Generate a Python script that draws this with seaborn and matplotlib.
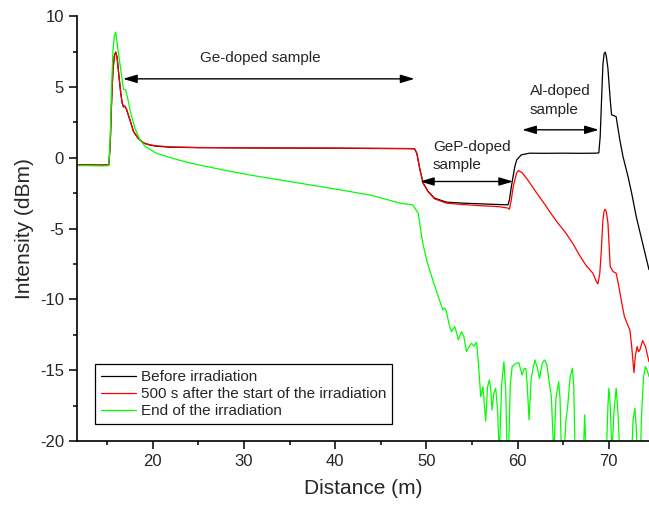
import numpy as np
import pandas as pd
import matplotlib
matplotlib.use("Agg")
import matplotlib.pyplot as plt
from matplotlib.ticker import MultipleLocator
import seaborn as sns

# OTDR traces: distance (m) vs. backscattered intensity (dBm)
before_x = [11.74, 13.0, 14.5, 15.2, 15.35, 15.5, 15.65, 15.8, 15.95, 16.1, 16.3, 16.5,
            16.65, 16.8, 16.95, 17.15, 17.5, 17.9, 18.4, 19.0, 19.7, 20.4, 22.0, 25.0,
            30.0, 35.0, 40.0, 45.0, 48.0, 48.7, 48.95, 49.3, 49.65, 50.2, 50.9, 52.2,
            54.0, 56.0, 58.0, 58.95, 59.1, 59.3, 59.5, 59.7, 59.9, 60.4, 61.3, 63.0,
            65.0, 67.0, 68.5, 68.9, 69.05, 69.2, 69.35, 69.48, 69.6, 69.72, 69.9, 70.15,
            70.3, 70.6, 70.8, 71.2, 71.55, 72.1, 72.5, 73.0, 73.7, 74.4]
before_y = [-0.5, -0.5, -0.52, -0.5, 1.0, 4.0, 6.2, 7.2, 7.47, 7.1, 5.8, 4.6,
            3.9, 3.6, 3.65, 3.4, 2.7, 1.86, 1.39, 1.05, 0.9, 0.82, 0.75, 0.72,
            0.70, 0.69, 0.68, 0.66, 0.65, 0.64, 0.33, -0.85, -1.79, -2.38, -2.85, -3.13,
            -3.2, -3.25, -3.3, -3.32, -2.97, -2.1, -1.32, -0.6, -0.14, 0.21, 0.33, 0.32,
            0.33, 0.32, 0.33, 0.35, 1.5, 4.1, 6.6, 7.35, 7.47, 7.2, 6.3, 4.1,
            3.04, 2.97, 2.9, 1.27, 0.09, -1.32, -2.5, -4.15, -6.03, -7.9]

mid_x = [11.74, 13.0, 14.5, 15.2, 15.35, 15.5, 15.65, 15.8, 15.95, 16.1, 16.3, 16.5,
         16.65, 16.8, 16.95, 17.15, 17.5, 17.9, 18.4, 19.0, 19.7, 20.4, 22.0, 25.0,
         30.0, 35.0, 40.0, 45.0, 48.0, 48.7, 48.95, 49.3, 49.65, 50.2, 50.9, 52.2,
         54.0, 56.0, 58.0, 58.95, 59.1, 59.3, 59.5, 59.7, 59.9, 60.1, 60.5, 61.1,
         62.0, 63.0, 63.5, 64.4, 65.3, 66.1, 66.8, 67.5, 68.25, 68.6, 68.8, 69.0,
         69.15, 69.35, 69.48, 69.6, 69.72, 69.9, 70.15, 70.45, 70.8, 71.1, 71.4, 71.7,
         72.0, 72.3, 72.5, 72.75, 72.9, 73.1, 73.25, 73.4, 73.7, 74.0, 74.4]
mid_y = [-0.5, -0.5, -0.5, -0.48, 1.0, 4.0, 6.2, 7.2, 7.47, 7.1, 5.8, 4.6,
         3.9, 3.6, 3.65, 3.4, 2.7, 1.86, 1.39, 1.05, 0.92, 0.85, 0.77, 0.73,
         0.71, 0.70, 0.69, 0.67, 0.66, 0.64, 0.33, -0.85, -1.79, -2.4, -2.9, -3.2,
         -3.3, -3.38, -3.45, -3.55, -3.63, -3.0, -2.1, -1.55, -1.05, -0.9, -1.05, -1.55,
         -2.4, -3.3, -3.79, -4.6, -5.32, -6.1, -6.9, -7.6, -8.15, -8.7, -8.9, -8.2,
         -6.8, -4.4, -3.75, -3.63, -3.8, -4.6, -7.68, -8.03, -8.15, -9.1, -10.2, -11.2,
         -11.7, -12.16, -13.3, -15.17, -14.0, -13.33, -13.7, -13.57, -12.91, -13.3, -14.4]

end_x = [11.74, 13.0, 14.5, 15.2, 15.35, 15.5, 15.65, 15.8, 15.95, 16.2, 16.6, 16.8,
         17.05, 17.3, 17.6, 18.05, 18.6, 19.2, 20.4, 22.0, 24.1, 27.7, 31.0, 35.0,
         40.0, 44.0, 47.1, 48.5, 49.1, 49.6, 50.1, 50.7, 51.3, 51.8, 52.0, 52.2,
         52.5, 52.75, 53.1, 53.3, 53.5, 53.85, 54.1, 54.4, 54.7, 54.95, 55.2, 55.5,
         55.7, 55.96, 56.2, 56.5, 56.7, 56.9, 57.05, 57.2, 57.4, 57.6, 57.8, 58.0,
         58.25, 58.5, 58.7, 58.85, 59.0, 59.2, 59.4, 59.65, 59.9, 60.15, 60.3, 60.5,
         60.7, 60.9, 61.05, 61.25, 61.5, 61.9, 62.15, 62.4, 62.7, 62.95, 63.2, 63.5,
         63.7, 63.96, 64.2, 64.5, 64.65, 64.8, 65.1, 65.3, 65.5, 65.75, 66.0, 66.15,
         66.3, 66.6, 67.0, 67.2, 67.35, 67.5, 67.8, 68.5, 69.5, 69.75, 69.9, 70.0,
         70.15, 70.35, 70.55, 70.8, 71.0, 71.2, 71.5, 72.0, 72.5, 72.65, 72.85, 73.0,
         73.1, 73.3, 73.45, 73.6, 73.8, 74.0, 74.2, 74.4]
end_y = [-0.55, -0.55, -0.57, -0.55, 1.5, 5.0, 7.6, 8.6, 8.88, 7.63, 5.75, 4.85,
         4.8, 4.1, 3.16, 2.1, 1.27, 0.8, 0.33, 0.0, -0.37, -0.85, -1.25, -1.67,
         -2.2, -2.65, -3.2, -3.32, -3.91, -6.03, -7.4, -8.62, -9.8, -10.74, -10.6, -10.86,
         -11.8, -12.28, -11.92, -12.3, -12.86, -12.28, -12.6, -13.69, -13.3, -13.1, -13.3, -13.03,
         -14.5, -16.87, -16.16, -18.6, -16.2, -15.69, -16.3, -17.8, -16.6, -16.28, -17.8, -21.0,
         -16.0, -14.4, -16.5, -21.0, -21.0, -16.0, -14.75, -14.6, -14.5, -14.47, -14.9, -15.34,
         -14.9, -14.86, -16.0, -18.5, -15.5, -14.28, -14.8, -15.57, -14.5, -14.28, -14.6, -16.0,
         -16.87, -21.0, -17.0, -15.8, -17.0, -21.0, -21.0, -18.5, -17.46, -15.5, -14.86, -16.0,
         -21.0, -21.0, -21.0, -21.0, -18.16, -21.0, -21.0, -21.0, -21.0, -20.5, -17.5, -16.28,
         -17.5, -21.0, -18.0, -16.28, -18.0, -21.0, -21.0, -21.0, -21.0, -18.5, -17.69, -19.0,
         -21.0, -21.0, -21.0, -18.0, -15.5, -14.75, -15.0, -15.45]

series_labels = ["Before irradiation",
                 "500 s after the start of the irradiation",
                 "End of the irradiation"]
series_colors = ["#000000", "#ff0000", "#00ff00"]

frames = []
for label, xs, ys in zip(series_labels,
                         [before_x, mid_x, end_x],
                         [before_y, mid_y, end_y]):
    frames.append(pd.DataFrame({"Distance": xs, "Intensity": ys, "trace": label}))
df = pd.concat(frames, ignore_index=True)

sns.set_style("ticks")
plt.rcParams["font.family"] = ["Liberation Sans", "DejaVu Sans"]
plt.rcParams["axes.unicode_minus"] = False

fig = plt.figure(figsize=(6.49, 5.07), dpi=100)
ax = fig.add_axes([0.1191, 0.1302, 0.8809, 0.8377])

sns.lineplot(data=df, x="Distance", y="Intensity", hue="trace",
             hue_order=series_labels, palette=series_colors,
             estimator=None, sort=False, linewidth=0.9, ax=ax)

ax.set_xlim(11.74, 74.4)
ax.set_ylim(-20, 10)
ax.xaxis.set_major_locator(MultipleLocator(10))
ax.xaxis.set_minor_locator(MultipleLocator(5))
ax.yaxis.set_major_locator(MultipleLocator(5))
ax.yaxis.set_minor_locator(MultipleLocator(2.5))
ax.tick_params(which="major", direction="out", length=6, width=1.1,
               labelsize=12, pad=3.5, color="black")
ax.tick_params(which="minor", direction="out", length=3, width=1.1, color="black")
sns.despine(ax=ax)
for side in ("left", "bottom"):
    ax.spines[side].set_linewidth(1.2)
    ax.spines[side].set_color("black")

ax.set_xlabel("Distance (m)", fontsize=15, labelpad=7)
ax.set_ylabel("Intensity (dBm)", fontsize=15)

handles, labels = ax.get_legend_handles_labels()
leg = ax.legend(handles, labels, loc="lower left", bbox_to_anchor=(0.031, 0.039),
                borderaxespad=0, fontsize=11, frameon=True, fancybox=False,
                framealpha=1, edgecolor="black", handlelength=2.3,
                handletextpad=0.3, labelspacing=0.2, borderpad=0.4)
leg.get_frame().set_linewidth(0.9)

arrow = dict(arrowstyle="<|-|>,head_length=0.6,head_width=0.18", color="black",
             lw=1.0, shrinkA=0, shrinkB=0, mutation_scale=14)

ax.annotate("", xy=(16.75, 5.58), xytext=(48.7, 5.58), arrowprops=arrow)
ax.text(31.75, 7.07, "Ge-doped sample", fontsize=11, ha="center", va="center")

ax.annotate("", xy=(49.3, -1.67), xytext=(59.5, -1.67), arrowprops=arrow)
ax.text(50.7, 0.8, "GeP-doped", fontsize=11, ha="left", va="center")
ax.text(50.7, -0.5, "sample", fontsize=11, ha="left", va="center")

ax.annotate("", xy=(60.5, 1.98), xytext=(68.9, 1.98), arrowprops=arrow)
ax.text(61.3, 4.69, "Al-doped", fontsize=11, ha="left", va="center")
ax.text(61.3, 3.39, "sample", fontsize=11, ha="left", va="center")

fig.savefig("out.png", dpi=100)
